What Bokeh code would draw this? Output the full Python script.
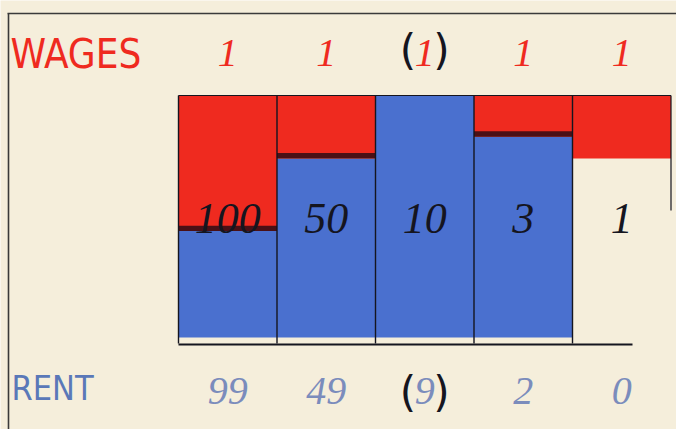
from bokeh.plotting import figure
from bokeh.models import Range1d, ColumnDataSource
from bokeh.core.properties import value
from bokeh.embed import file_html
from bokeh.resources import INLINE

# Five classes of tenants: total income index, the part paid in wages and in rent
totals = ["100", "50", "10", "3", "1"]
wages = ["1", "1", "1", "1", "1"]
rents = ["99", "49", "9", "2", "0"]
bracketed = [False, False, True, False, False]
# share of each column filled by wages (red, from the top) and rent (blue, from the bottom)
wage_share = [0.56, 0.26, 0.0, 0.17, 0.26]
rent_share = [0.44, 0.74, 1.0, 0.83, 0.0]

W, H = 676, 429
COL_PX = 98.5          # pixel width of one column
X0_PX = 178            # left edge of the first column
Y0_PX, Y1_PX = 337, 95  # bottom and top of the columns
UNIT_PX = Y0_PX - Y1_PX

PAPER = "#f5eedb"
RED = "#ef2a1f"
BLUE = "#4a70cf"
DARK = "#4a1016"
INK = "#15151f"


def dx(px):
    return (px - X0_PX) / COL_PX


def dy(py):
    return (Y0_PX - py) / UNIT_PX


p = figure(width=W, height=H, output_backend="svg", toolbar_location=None,
           x_range=Range1d(dx(0), dx(W)), y_range=Range1d(dy(H), dy(0)),
           min_border=0)
p.axis.visible = False
p.grid.visible = False
p.outline_line_color = None
p.background_fill_color = PAPER
p.border_fill_color = PAPER

n = len(totals)
idx = list(range(n))
centers = [i + 0.5 for i in idx]

# rent blocks rise from the base
src_b = ColumnDataSource(dict(l=[i for i in idx if rent_share[i] > 0],
                              r=[i + 1 for i in idx if rent_share[i] > 0],
                              b=[0.0 for i in idx if rent_share[i] > 0],
                              t=[rent_share[i] for i in idx if rent_share[i] > 0]))
p.quad(left="l", right="r", bottom="b", top="t", source=src_b,
       fill_color=BLUE, line_color=None)

# wage blocks hang from the top
src_r = ColumnDataSource(dict(l=[i for i in idx if wage_share[i] > 0],
                              r=[i + 1 for i in idx if wage_share[i] > 0],
                              b=[1 - wage_share[i] for i in idx if wage_share[i] > 0],
                              t=[1.0 for i in idx if wage_share[i] > 0]))
p.quad(left="l", right="r", bottom="b", top="t", source=src_r,
       fill_color=RED, line_color=None)

# dark edge where wages meet rent
edge = [i for i in idx if wage_share[i] > 0 and rent_share[i] > 0]
p.quad(left=[i for i in edge], right=[i + 1 for i in edge],
       bottom=[1 - wage_share[i] for i in edge],
       top=[1 - wage_share[i] + 0.022 for i in edge],
       fill_color=DARK, line_color=None)

# column rules, top rule and base line
p.segment(x0=[i for i in idx], y0=[dy(343)] * n, x1=[i for i in idx], y1=[1.0] * n,
          line_color=INK, line_width=1.4)
p.segment(x0=[n], y0=[dy(210)], x1=[n], y1=[1.0], line_color=INK, line_width=1.2)
p.segment(x0=[0], y0=[1.0], x1=[n], y1=[1.0], line_color=INK, line_width=1.2)
p.segment(x0=[0], y0=[dy(344)], x1=[dx(632)], y1=[dy(344)], line_color=INK, line_width=2)

# frame of the sheet
p.segment(x0=[dx(7)], y0=[dy(13)], x1=[dx(676)], y1=[dy(13)], line_color="#3a3a3a", line_width=1.6)
p.segment(x0=[dx(8)], y0=[dy(13)], x1=[dx(8)], y1=[dy(429)], line_color="#3a3a3a", line_width=1.6)

# row titles
p.text(x=[dx(10)], y=[dy(53)], text=["WAGES"], text_color=RED,
       text_font=value("DejaVu Sans Condensed"), text_font_size="40px",
       text_baseline="middle", text_align="left")
p.text(x=[dx(11)], y=[dy(387)], text=["RENT"], text_color="#5a78b8",
       text_font=value("DejaVu Sans Condensed"), text_font_size="34px",
       text_baseline="middle", text_align="left")

hand = value("Liberation Serif")

# wage figures
p.text(x=centers, y=[dy(52)] * n, text=wages, text_color=RED, text_font=hand,
       text_font_style="italic", text_font_size="40px",
       text_baseline="middle", text_align="center")
# rent figures
p.text(x=centers, y=[dy(390)] * n, text=rents, text_color="#7b8cbc", text_font=hand,
       text_font_style="italic", text_font_size="40px",
       text_baseline="middle", text_align="center")
# brackets around the middle column's figures
bx = [centers[i] for i in idx if bracketed[i]]
for yy in (dy(50), dy(392)):
    p.text(x=[c - 0.17 for c in bx], y=[yy] * len(bx), text=["("] * len(bx),
           text_color=INK, text_font=value("DejaVu Sans"), text_font_size="42px",
           text_baseline="middle", text_align="center")
    p.text(x=[c + 0.17 for c in bx], y=[yy] * len(bx), text=[")"] * len(bx),
           text_color=INK, text_font=value("DejaVu Sans"), text_font_size="42px",
           text_baseline="middle", text_align="center")

# totals written across each column
p.text(x=centers, y=[dy(218)] * n, text=totals, text_color=INK, text_font=hand,
       text_font_style="italic", text_font_size="44px",
       text_baseline="middle", text_align="center")

open("out.html", "w").write(file_html(p, INLINE))
